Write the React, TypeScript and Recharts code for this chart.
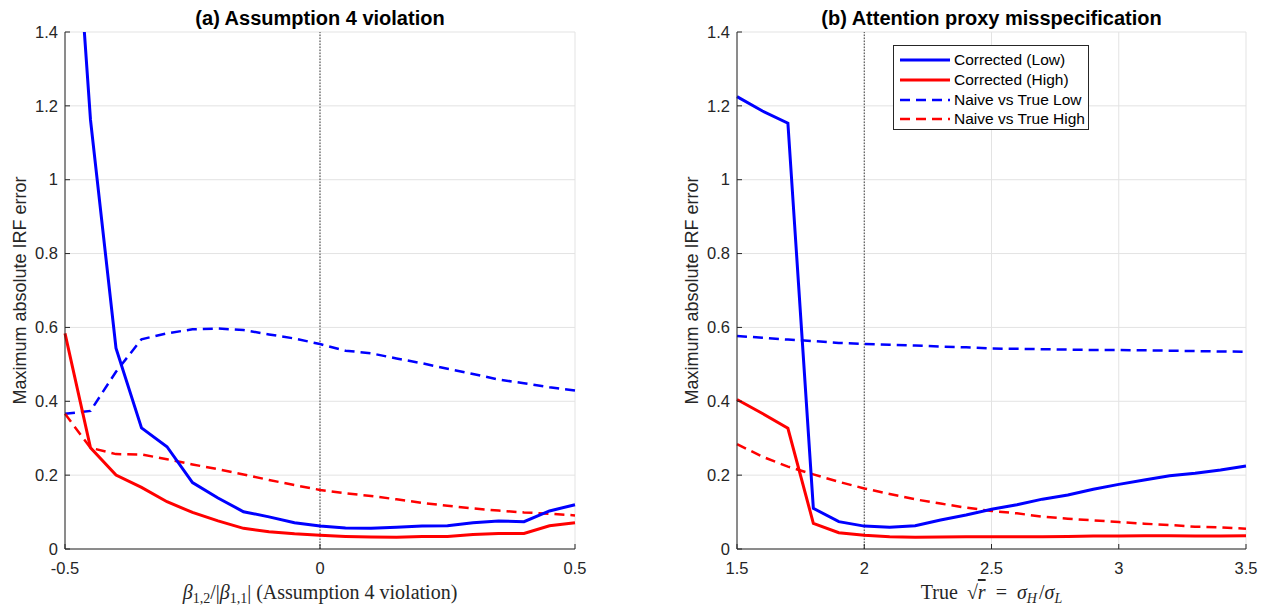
import React from "react";
import { LineChart, Line, CartesianGrid, XAxis, YAxis, ReferenceLine } from "recharts";

// panel (a): beta_{1,2}/|beta_{1,1}|
const xA = [-0.5, -0.45, -0.4, -0.35, -0.3, -0.25, -0.2, -0.15, -0.1, -0.05, 0, 0.05, 0.1, 0.15, 0.2, 0.25, 0.3, 0.35, 0.4, 0.45, 0.5];
const aCorrLow = [2.15, 1.162, 0.544, 0.328, 0.277, 0.18, 0.138, 0.101, 0.087, 0.071, 0.062, 0.057, 0.056, 0.059, 0.062, 0.063, 0.071, 0.076, 0.074, 0.103, 0.12];
const aCorrHigh = [0.584, 0.274, 0.2, 0.167, 0.128, 0.099, 0.076, 0.056, 0.047, 0.041, 0.037, 0.034, 0.0325, 0.032, 0.034, 0.034, 0.039, 0.042, 0.042, 0.063, 0.071];
const aNaiveLow = [0.366, 0.374, 0.48, 0.568, 0.584, 0.595, 0.597, 0.593, 0.581, 0.57, 0.555, 0.537, 0.53, 0.516, 0.503, 0.488, 0.474, 0.459, 0.449, 0.438, 0.429];
const aNaiveHigh = [0.366, 0.274, 0.257, 0.256, 0.243, 0.229, 0.216, 0.202, 0.187, 0.173, 0.16, 0.151, 0.1435, 0.1345, 0.125, 0.117, 0.11, 0.104, 0.099, 0.0956, 0.091];

// panel (b): true sqrt(r)
const xB = [1.5, 1.6, 1.7, 1.8, 1.9, 2.0, 2.1, 2.2, 2.3, 2.4, 2.5, 2.6, 2.7, 2.8, 2.9, 3.0, 3.1, 3.2, 3.3, 3.4, 3.5];
const bCorrLow = [1.225, 1.186, 1.153, 0.11, 0.074, 0.062, 0.059, 0.063, 0.0785, 0.092, 0.1075, 0.12, 0.135, 0.146, 0.162, 0.175, 0.187, 0.1985, 0.205, 0.214, 0.225];
const bCorrHigh = [0.405, 0.367, 0.327, 0.0695, 0.044, 0.037, 0.0335, 0.032, 0.0325, 0.0335, 0.0335, 0.033, 0.033, 0.034, 0.035, 0.035, 0.036, 0.036, 0.035, 0.035, 0.036];
const bNaiveLow = [0.577, 0.572, 0.567, 0.563, 0.558, 0.555, 0.553, 0.551, 0.548, 0.546, 0.543, 0.542, 0.541, 0.54, 0.539, 0.539, 0.538, 0.537, 0.536, 0.535, 0.534];
const bNaiveHigh = [0.284, 0.25, 0.223, 0.202, 0.182, 0.164, 0.149, 0.1345, 0.123, 0.112, 0.103, 0.0966, 0.0875, 0.082, 0.0776, 0.073, 0.0685, 0.065, 0.0604, 0.0587, 0.055];

const xTicksA = [-0.5, 0, 0.5];
const xTicksB = [1.5, 2, 2.5, 3, 3.5];
const yTicks = [0, 0.2, 0.4, 0.6, 0.8, 1, 1.2, 1.4];

const legendItems = [
  { name: "Corrected (Low)", color: "#0000ff", dash: false },
  { name: "Corrected (High)", color: "#ff0000", dash: false },
  { name: "Naive vs True Low", color: "#0000ff", dash: true },
  { name: "Naive vs True High", color: "#ff0000", dash: true },
];

const dataA = xA.map((x, i) => ({ x, corrLow: aCorrLow[i], corrHigh: aCorrHigh[i], naiveLow: aNaiveLow[i], naiveHigh: aNaiveHigh[i] }));
const dataB = xB.map((x, i) => ({ x, corrLow: bCorrLow[i], corrHigh: bCorrHigh[i], naiveLow: bNaiveLow[i], naiveHigh: bNaiveHigh[i] }));

const SANS = "'Liberation Sans', Arial, Helvetica, sans-serif";
const SERIF = "'Liberation Serif', 'DejaVu Serif', serif";
const INK = "#262626";

const YTick = (p: any) => (
  <g>
    <line x1={p.x + 8} x2={p.x + 13} y1={p.y} y2={p.y} stroke={INK} />
    <text x={p.x + 1} y={p.y} dy="0.35em" textAnchor="end" fontSize={16.5} fontFamily={SANS} fill={INK}>
      {String(p.payload.value)}
    </text>
  </g>
);

const XTick = (p: any) => (
  <g>
    <line x1={p.x} x2={p.x} y1={p.y - 8} y2={p.y - 13} stroke={INK} />
    <text x={p.x} y={p.y + 5} dy="0.71em" textAnchor="middle" fontSize={16.5} fontFamily={SANS} fill={INK}>
      {String(p.payload.value)}
    </text>
  </g>
);

const YLabel = (props: any) => {
  const vb = props.viewBox;
  const cx = vb.x - 5;
  const cy = vb.y + vb.height / 2;
  return (
    <text x={cx} y={cy} transform={`rotate(-90 ${cx} ${cy})`} textAnchor="middle" dominantBaseline="central" fontSize={18} fontFamily={SANS} fill={INK}>
      Maximum absolute IRF error
    </text>
  );
};

const XLabelA = (props: any) => {
  const vb = props.viewBox;
  const cx = vb.x + vb.width / 2;
  return (
    <text x={cx} y={vb.y + 50} textAnchor="middle" fontSize={20} fontFamily={SERIF} fill={INK}>
      <tspan fontStyle="italic">β</tspan>
      <tspan fontSize={14} dy={4}>1,2</tspan>
      <tspan dy={-4}>/|</tspan>
      <tspan fontStyle="italic">β</tspan>
      <tspan fontSize={14} dy={4}>1,1</tspan>
      <tspan dy={-4}>|  (Assumption 4 violation)</tspan>
    </text>
  );
};

const XLabelB = (props: any) => {
  const vb = props.viewBox;
  const cx = vb.x + vb.width / 2;
  return (
    <text x={cx} y={vb.y + 50} textAnchor="middle" fontSize={20} fontFamily={SERIF} fill={INK}>
      <tspan>True</tspan>
      <tspan dx={9}>√</tspan>
      <tspan fontStyle="italic" style={{ textDecoration: "overline" }}>r</tspan>
      <tspan dx={10}>=</tspan>
      <tspan dx={10} fontStyle="italic">σ</tspan>
      <tspan fontStyle="italic" fontSize={14} dy={4}>H</tspan>
      <tspan dy={-4} dx={2}>/</tspan>
      <tspan fontStyle="italic">σ</tspan>
      <tspan fontStyle="italic" fontSize={14} dy={4}>L</tspan>
    </text>
  );
};

function Panel({ data, ticks, domain, refX, margin, XLabel }: any) {
  return (
    <LineChart width={635} height={608} data={data} margin={margin}>
      <CartesianGrid stroke="#e3e3e3" strokeWidth={1} />
      <XAxis
        dataKey="x"
        type="number"
        domain={domain}
        ticks={ticks}
        height={30}
        tickLine={false}
        tickSize={6}
        tickMargin={2}
        axisLine={{ stroke: INK }}
        tick={<XTick />}
        label={<XLabel />}
      />
      <YAxis
        type="number"
        domain={[0, 1.4]}
        ticks={yTicks}
        allowDataOverflow
        width={40}
        tickLine={false}
        tickSize={6}
        tickMargin={2}
        axisLine={{ stroke: INK }}
        tick={<YTick />}
        label={<YLabel />}
      />
      <ReferenceLine x={refX} stroke="#404040" strokeDasharray="1.5 1.5" strokeWidth={1} />
      <Line type="linear" dataKey="naiveLow" stroke="#0000ff" strokeWidth={2.5} strokeDasharray="10 6" dot={false} isAnimationActive={false} />
      <Line type="linear" dataKey="naiveHigh" stroke="#ff0000" strokeWidth={2.5} strokeDasharray="10 6" dot={false} isAnimationActive={false} />
      <Line type="linear" dataKey="corrLow" stroke="#0000ff" strokeWidth={3} dot={false} isAnimationActive={false} />
      <Line type="linear" dataKey="corrHigh" stroke="#ff0000" strokeWidth={3} dot={false} isAnimationActive={false} />
    </LineChart>
  );
}

const titleStyle: React.CSSProperties = {
  position: "absolute",
  top: 6,
  fontFamily: SANS,
  fontWeight: "bold",
  fontSize: 20,
  lineHeight: "24px",
  color: "#000",
  textAlign: "center",
  whiteSpace: "nowrap",
};

export default function App() {
  return (
    <div style={{ position: "fixed", left: 0, top: 0, width: 1270, height: 608, background: "#fff", overflow: "hidden" }}>
      <div style={{ position: "absolute", left: 0, top: 0 }}>
        <Panel data={dataA} ticks={xTicksA} domain={[-0.5, 0.5]} refX={0} margin={{ top: 32, right: 60, bottom: 29, left: 25 }} XLabel={XLabelA} />
      </div>
      <div style={{ position: "absolute", left: 635, top: 0 }}>
        <Panel data={dataB} ticks={xTicksB} domain={[1.5, 3.5]} refX={2} margin={{ top: 32, right: 24, bottom: 29, left: 62 }} XLabel={XLabelB} />
      </div>
      <div style={{ ...titleStyle, left: 65, width: 510 }}>(a) Assumption 4 violation</div>
      <div style={{ ...titleStyle, left: 737, width: 509 }}>(b) Attention proxy misspecification</div>
      <div
        style={{
          position: "absolute",
          left: 893,
          top: 45,
          width: 194,
          height: 83,
          border: `1px solid ${INK}`,
          background: "#fff",
          fontFamily: SANS,
          fontSize: 15.5,
          color: "#000",
        }}
      >
        {legendItems.map((it, i) => (
          <div key={it.name} style={{ position: "absolute", left: 6, top: 4 + i * 19.8, height: 20, display: "flex", alignItems: "center", whiteSpace: "nowrap" }}>
            <svg width={50} height={6} style={{ marginRight: 4 }}>
              <line x1={0} x2={50} y1={3} y2={3} stroke={it.color} strokeWidth={it.dash ? 2.5 : 3} strokeDasharray={it.dash ? "10 6" : undefined} />
            </svg>
            {it.name}
          </div>
        ))}
      </div>
    </div>
  );
}
